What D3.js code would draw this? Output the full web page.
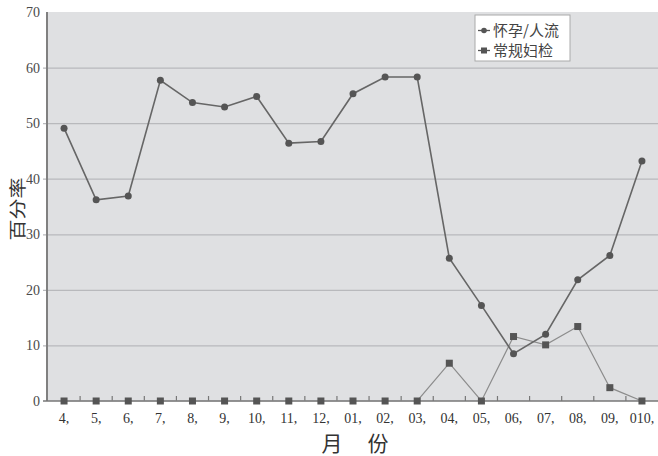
<!DOCTYPE html>
<html>
<head>
<meta charset="utf-8">
<script src="https://cdn.jsdelivr.net/npm/d3@7"></script>
<style>
  html, body { margin: 0; padding: 0; background: #fff; }
  svg { display: block; }
</style>
</head>
<body>
<svg id="chart" width="658" height="456"></svg>
<script>
// Months and the two monthly percentage series
const months = ["4", "5", "6", "7", "8", "9", "10", "11", "12", "01", "02", "03", "04", "05", "06", "07", "08", "09", "010"];
const pregnancyAbortion = [49.1, 36.2, 36.9, 57.7, 53.7, 52.9, 54.8, 46.4, 46.7, 55.3, 58.3, 58.3, 25.7, 17.2, 8.5, 12.0, 21.8, 26.2, 43.2];
const routineGyn = [0, 0, 0, 0, 0, 0, 0, 0, 0, 0, 0, 0, 6.8, 0, 11.6, 10.1, 13.4, 2.4, 0];
const yTicks = [0, 10, 20, 30, 40, 50, 60, 70];
const seriesNames = ["怀孕/人流", "常规妇检"];
const xTitleChars = ["月", "份"];

const serif = "'Liberation Serif', 'DejaVu Serif', serif";
const cjk = "'Noto Sans CJK SC', 'Noto Sans', sans-serif";

const svg = d3.select("#chart");
const plot = { left: 47, right: 658, top: 12, bottom: 401 };

const x = d3.scaleBand().domain(months).range([plot.left + 1, plot.right]).padding(0);
const xc = d => x(d) + x.bandwidth() / 2;
const y = d3.scaleLinear().domain([0, 70]).range([plot.bottom, plot.top]);

// plot background
svg.append("rect")
  .attr("x", plot.left).attr("y", plot.top)
  .attr("width", plot.right - plot.left).attr("height", plot.bottom - plot.top)
  .attr("fill", "#dfe0e2");

// horizontal gridlines with short outer ticks
const yAxis = d3.axisLeft(y).tickValues(yTicks).tickSize(-(plot.right - plot.left)).tickFormat(d3.format("d"));
const gy = svg.append("g").attr("transform", `translate(${plot.left},0)`).call(yAxis);
gy.select(".domain").remove();
gy.selectAll(".tick line").attr("stroke", "#b8b9bc").attr("stroke-width", 1.2).attr("x1", -4);
gy.selectAll(".tick text")
  .attr("x", -7)
  .attr("fill", "#4a4a4a")
  .style("font-family", serif)
  .style("font-size", "14px");
gy.selectAll(".tick").filter(d => d === 0 || d === 70).select("line").attr("stroke", "none");

// left axis line
svg.append("line")
  .attr("x1", plot.left).attr("x2", plot.left)
  .attr("y1", plot.top).attr("y2", plot.bottom)
  .attr("stroke", "#808080").attr("stroke-width", 2);

// bottom axis with inner ticks at band boundaries
const xAxis = d3.axisBottom(x).tickSize(0).tickFormat(d => d + ",");
const gx = svg.append("g").attr("transform", `translate(0,${plot.bottom})`).call(xAxis);
gx.select(".domain").remove();
gx.selectAll(".tick text")
  .attr("y", 12)
  .attr("fill", "#333")
  .style("font-family", serif)
  .style("font-size", "14px");

svg.append("line")
  .attr("x1", plot.left - 4).attr("x2", plot.right)
  .attr("y1", plot.bottom).attr("y2", plot.bottom)
  .attr("stroke", "#777").attr("stroke-width", 1.6);

svg.append("g").selectAll("line")
  .data(months.slice(1))
  .join("line")
  .attr("x1", d => x(d)).attr("x2", d => x(d))
  .attr("y1", plot.bottom).attr("y2", plot.bottom - 5)
  .attr("stroke", "#777").attr("stroke-width", 1.2);

// series lines
const line = d3.line().x((d, i) => xc(months[i])).y(d => y(d));

svg.append("path")
  .datum(routineGyn)
  .attr("d", line)
  .attr("fill", "none")
  .attr("stroke", "#8c8c8c")
  .attr("stroke-width", 1.2);

svg.append("path")
  .datum(pregnancyAbortion)
  .attr("d", line)
  .attr("fill", "none")
  .attr("stroke", "#666")
  .attr("stroke-width", 1.6);

// markers
svg.append("g").selectAll("rect")
  .data(routineGyn)
  .join("rect")
  .attr("x", (d, i) => xc(months[i]) - 3.5)
  .attr("y", d => y(d) - 3.5)
  .attr("width", 7).attr("height", 7)
  .attr("fill", "#555");

svg.append("g").selectAll("circle")
  .data(pregnancyAbortion)
  .join("circle")
  .attr("cx", (d, i) => xc(months[i]))
  .attr("cy", d => y(d))
  .attr("r", 3.5)
  .attr("fill", "#555");

// legend
const lg = svg.append("g").attr("transform", "translate(475,15)");
lg.append("rect")
  .attr("width", 95).attr("height", 46)
  .attr("fill", "#fff").attr("stroke", "#aaa").attr("stroke-width", 1);
seriesNames.forEach((name, i) => {
  const row = lg.append("g").attr("transform", `translate(0,${15.5 + i * 20})`);
  row.append("line").attr("x1", 3).attr("x2", 15).attr("y1", 0).attr("y2", 0)
    .attr("stroke", "#555").attr("stroke-width", 1.3);
  if (i === 0) {
    row.append("circle").attr("cx", 9).attr("cy", 0).attr("r", 2.8).attr("fill", "#555");
  } else {
    row.append("rect").attr("x", 6).attr("y", -3).attr("width", 6).attr("height", 6).attr("fill", "#555");
  }
  row.append("text")
    .attr("x", 18).attr("y", 0).attr("dy", "0.36em")
    .attr("fill", "#444")
    .style("font-family", cjk)
    .style("font-size", "15px")
    .text(name);
});

// axis titles
svg.append("text")
  .attr("transform", "translate(18,209) rotate(-90) scale(1,0.8)")
  .attr("text-anchor", "middle")
  .attr("dy", "0.36em")
  .attr("fill", "#333")
  .style("font-family", cjk)
  .style("font-size", "21px")
  .text("百分率");

svg.append("g").selectAll("text")
  .data(xTitleChars)
  .join("text")
  .attr("x", (d, i) => 332 + i * 46)
  .attr("y", 443)
  .attr("text-anchor", "middle")
  .attr("dy", "0.36em")
  .attr("fill", "#333")
  .style("font-family", cjk)
  .style("font-size", "21px")
  .text(d => d);
</script>
</body>
</html>
